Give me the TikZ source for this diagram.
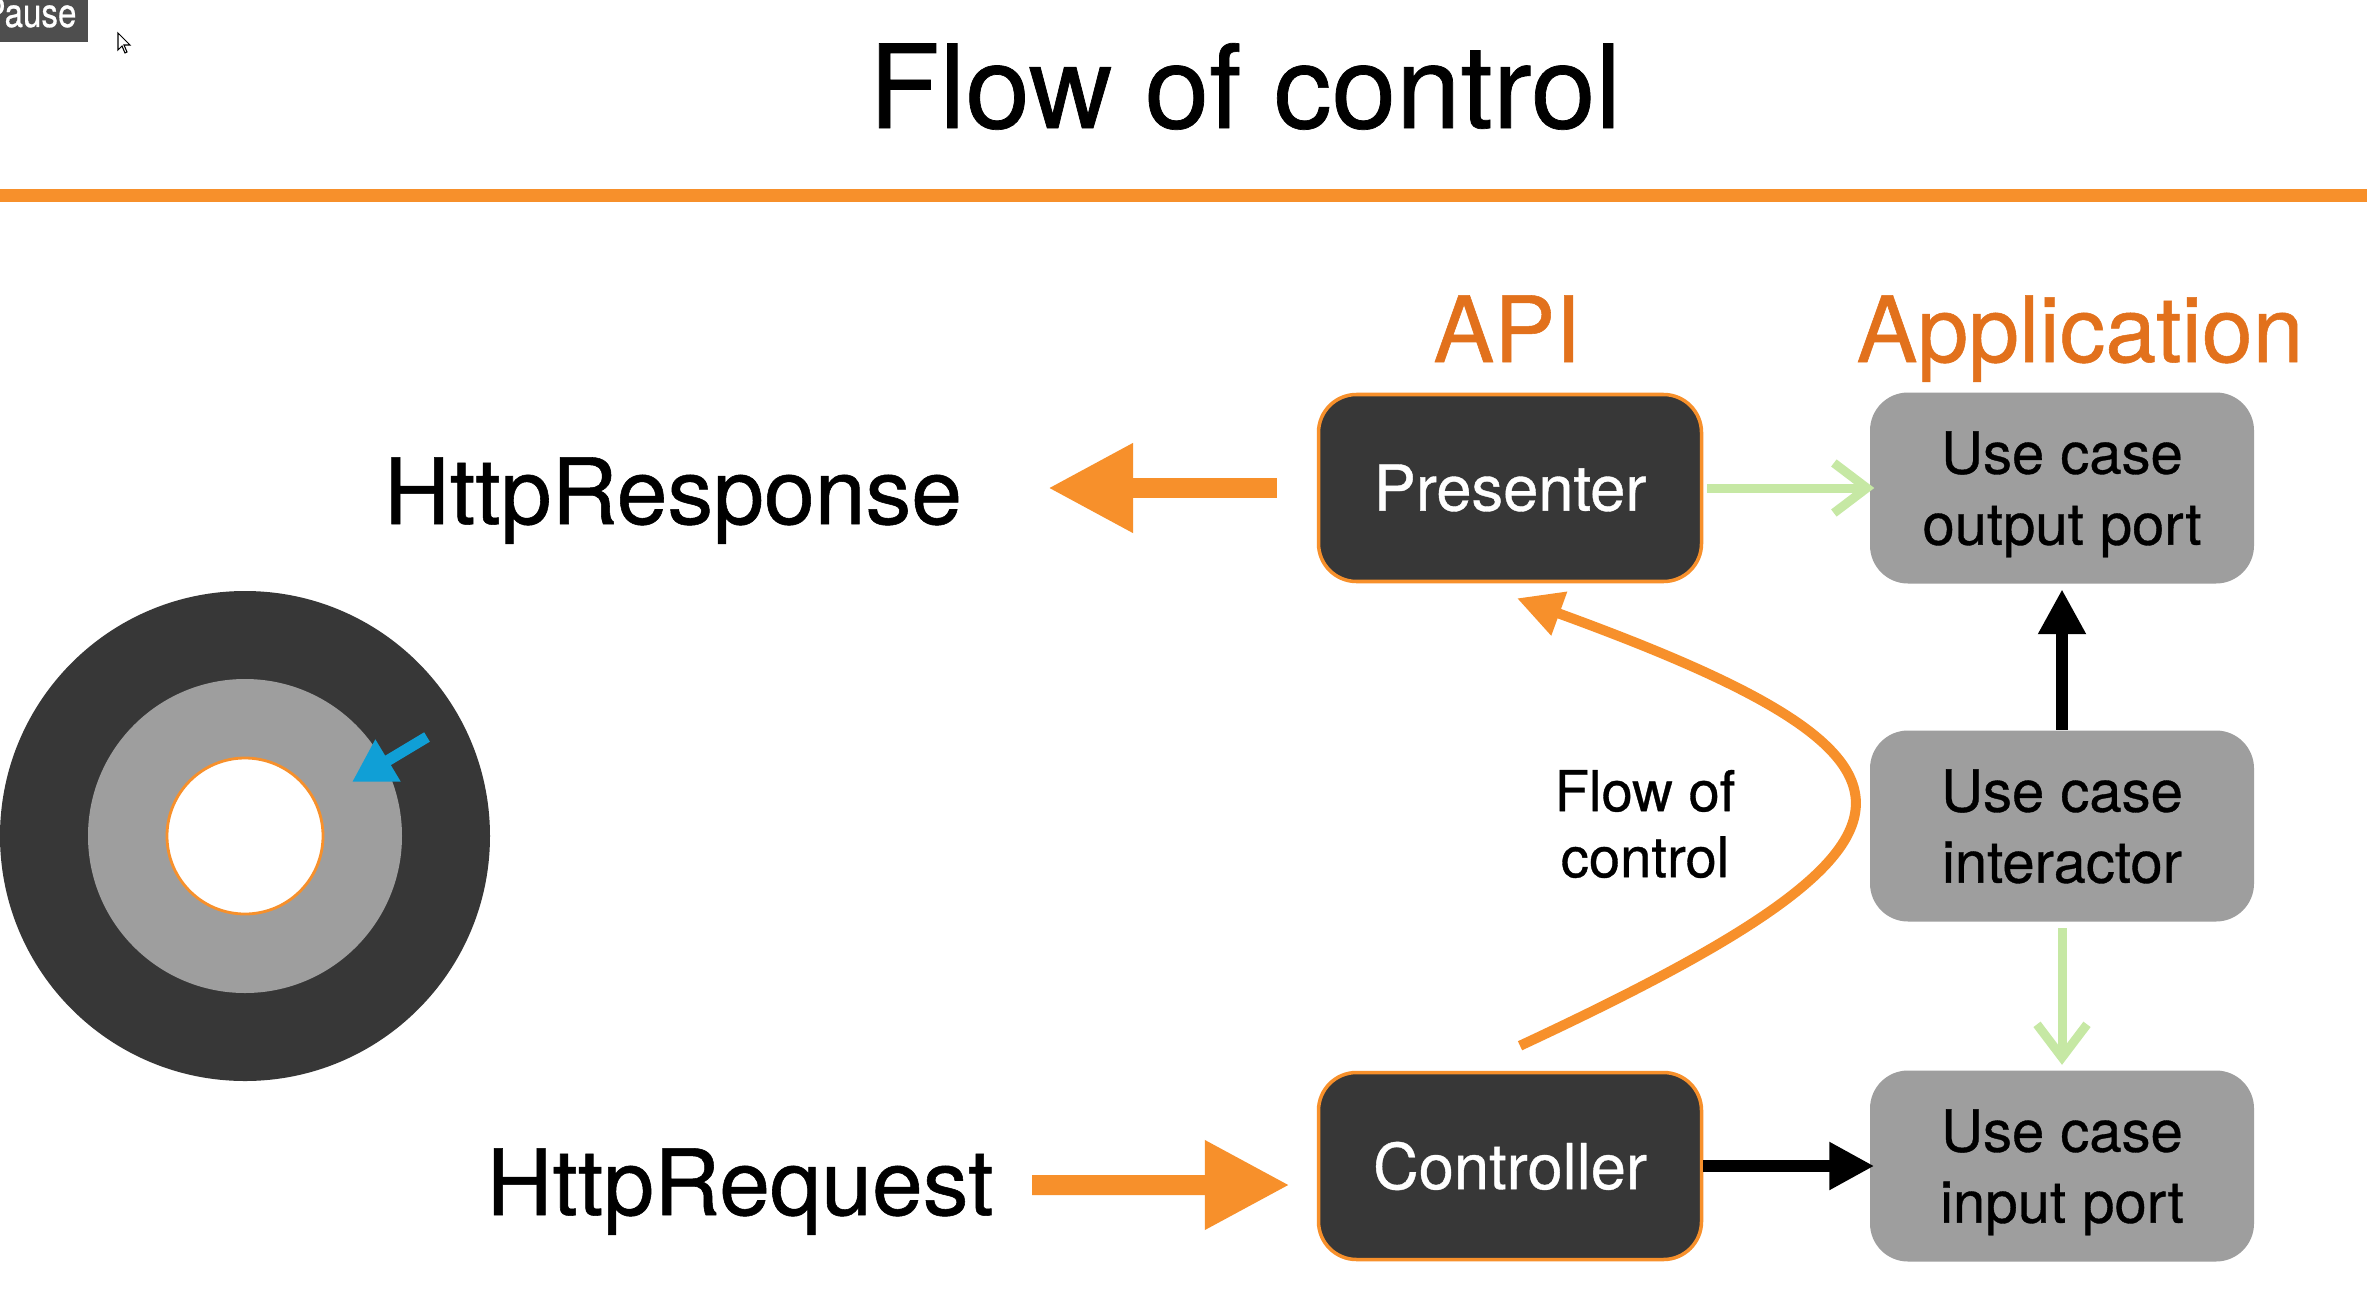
\documentclass[tikz,border=0pt]{standalone}
\usepackage{fontspec}
\setmainfont{TeX Gyre Heros}[FakeBold=0.6]
\usepackage{tikz}
\usetikzlibrary{arrows.meta}
\definecolor{ctrlorange}{HTML}{F7902B}
\definecolor{layerorange}{HTML}{E2711C}
\definecolor{boxdark}{HTML}{373737}
\definecolor{boxgrey}{HTML}{9E9E9E}
\definecolor{implgreen}{HTML}{C6E8A4}
\definecolor{markblue}{HTML}{109FD6}
\definecolor{pausegrey}{HTML}{4E4E4E}

\begin{document}
\begin{tikzpicture}[
  adapter/.style={draw=ctrlorange, line width=1pt, fill=boxdark, text=white, rounded corners=0.38cm, minimum width=3.83cm, minimum height=1.87cm, font=\fontsize{18}{22}\selectfont},
  port/.style={fill=boxgrey, rounded corners=0.38cm, minimum width=3.84cm, minimum height=1.91cm, align=center, text depth=0pt, font=\fontsize{16.5}{20.2}\selectfont},
  layer/.style={text=layerorange, anchor=base, inner sep=0pt, font=\fontsize{26}{30}\selectfont},
  http/.style={anchor=base, inner sep=0pt, font=\fontsize{26}{30}\selectfont},
  bigarrow/.style={ctrlorange, line width=0.2cm, -{Triangle[length=0.85cm, width=0.84cm]}},
  flow/.style={ctrlorange, line width=0.1cm, -{Triangle[length=0.45cm, width=0.44cm]}},
  calls/.style={black, line width=0.12cm, -{Triangle[length=0.45cm, width=0.45cm]}},
  implements/.style={implgreen, line width=0.09cm, -{Straight Barb[length=0.33cm, width=0.5cm]}}
]
\fill[white] (0,0) rectangle (23.67,13.12);
\useasboundingbox (0,0) rectangle (23.67,13.12);

\fill[pausegrey] (0,13.12) rectangle (0.88,12.70);
\node[text=white, anchor=base east, inner sep=0pt, xscale=0.82, font=\fontsize{11.5}{12}\selectfont] (pause) at (0.77,12.85) {Pause};
\draw[shift={(1.18,12.79)}, x=0.1mm, y=0.1mm, fill=white, line width=0.3pt] (0,0) -- (0,-17) -- (4,-13) -- (7,-20) -- (9,-19) -- (6,-12) -- (12,-12) -- cycle;

\node[anchor=base, inner sep=0pt, font=\fontsize{33}{40}\selectfont] (title) at (12.45,11.84) {Flow of control};
\draw[ctrlorange, line width=0.13cm] (0,11.17) -- (23.67,11.17);

\node[layer] (api) at (15.07,9.50) {API};
\node[layer] (app) at (20.80,9.50) {Application};

\node[adapter] (pres) at (15.10,8.24) {Presenter};
\node[adapter] (ctrl) at (15.10,1.46) {Controller};
\node[port] (outp) at (20.62,8.24) {Use case\\output port};
\node[port] (inter) at (20.62,4.86) {Use case\\interactor};
\node[port] (inp) at (20.62,1.46) {Use case\\input port};

\node[http] (resp) at (6.73,7.88) {HttpResponse};
\node[http] (req) at (7.40,0.97) {HttpRequest};
\coordinate (resptip) at (10.48,8.24);
\coordinate (reqtail) at (10.32,1.27);

\node[align=center, inner sep=0pt, font=\fontsize{16}{18.8}\selectfont] (flowlbl) at (16.45,4.88) {Flow of\\control};

\draw[bigarrow] ([xshift=-4mm]pres.west) -- (resptip);
\draw[bigarrow] (reqtail) -- ([xshift=-2.7mm,yshift=-1.9mm]ctrl.west);
\draw[implements] ([xshift=0.4mm]pres.east) -- ([xshift=0.5mm]outp.west);
\draw[implements] ([yshift=-0.6mm]inter.south) -- ([yshift=0.5mm]inp.north);
\draw[calls] (inter.north) -- ([yshift=-0.5mm]outp.south);
\draw[calls] (ctrl.east) -- ([xshift=0.5mm]inp.west);
\draw[flow] ([xshift=1mm,yshift=2.5mm]ctrl.north) .. controls +(25:4.85) and +(-20:4.75) .. ([xshift=0.7mm,yshift=-1.5mm]pres.south);

\coordinate (core) at (2.45,4.76);
\fill[boxdark] (core) circle (2.45);
\fill[boxgrey] (core) circle (1.57);
\draw[ctrlorange, fill=white, line width=0.8pt] (core) circle (0.78);
\draw[markblue, line width=0.11cm, -{Triangle[length=0.42cm, width=0.46cm]}] (4.27,5.75) -- (3.52,5.30);
\end{tikzpicture}
\end{document}
